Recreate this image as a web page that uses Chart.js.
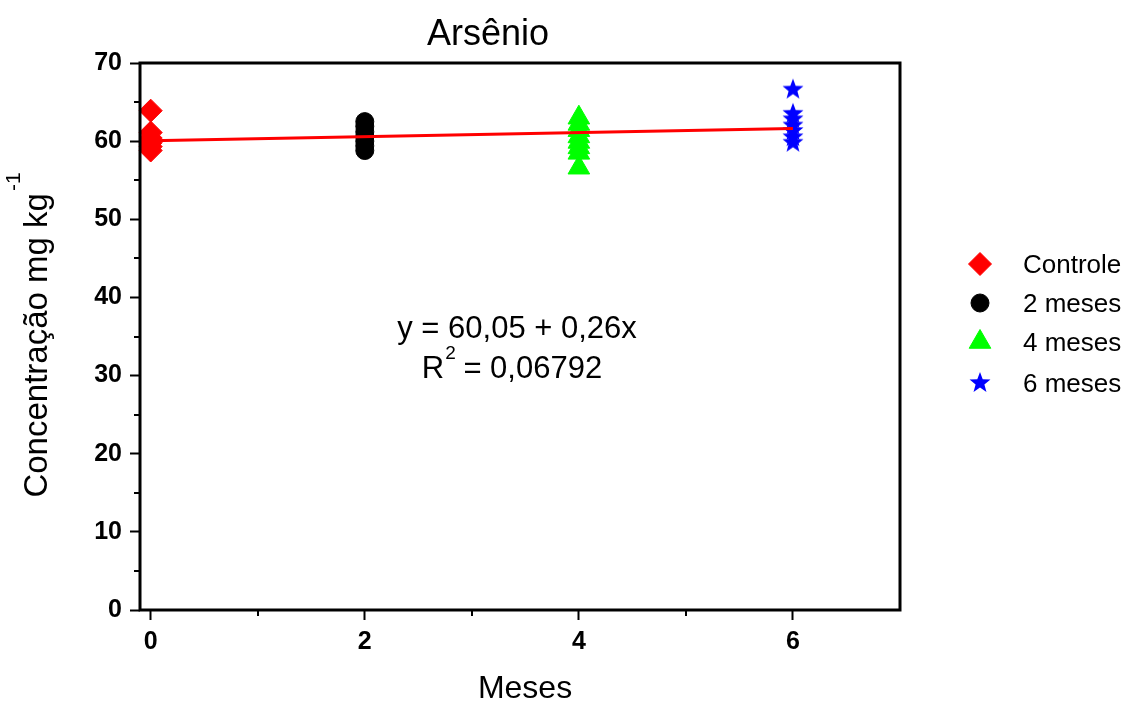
<!DOCTYPE html>
<html>
<head>
<meta charset="utf-8">
<script src="https://cdn.jsdelivr.net/npm/chart.js@4/dist/chart.umd.min.js"></script>
<style>
html, body { margin: 0; padding: 0; background: #fff; }
</style>
</head>
<body>
<canvas id="arsenioChart" width="1126" height="702"></canvas>
<script>
// concentration readings (mg/kg) per sampling month
const months = [0, 2, 4, 6];
const controle = [63.9, 61.1, 60.4, 59.8, 59.3, 58.8];
const meses2 = [62.5, 61.9, 61.2, 60.6, 60.0, 59.4, 58.8];
const meses4 = [63.0, 62.2, 61.4, 60.6, 59.9, 59.2, 58.5, 56.6];
const meses6 = [66.6, 63.5, 62.8, 62.0, 61.3, 60.5, 59.8];
const seriesNames = ['Controle', '2 meses', '4 meses', '6 meses'];

// linear fit
const intercept = 60.05;
const slope = 0.26;
const fitLabel = 'y = 60,05 + 0,26x';
const r2Label = '0,06792';

const xTicks = [0, 2, 4, 6];
const xMinor = [1, 3, 5];
const yTicks = [0, 10, 20, 30, 40, 50, 60, 70];
const yMinor = [5, 15, 25, 35, 45, 55, 65];

const FONT = '"Liberation Sans", Arial, sans-serif';

// filled five point star, used as a point style
const makeStar = (outer, color) => {
    const c = document.createElement('canvas');
    const size = Math.ceil(outer * 2 + 2);
    c.width = size; c.height = size;
    const g = c.getContext('2d');
    const inner = outer * 0.42;
    g.beginPath();
    for (let i = 0; i < 10; i++) {
        const r = i % 2 === 0 ? outer : inner;
        const a = -Math.PI / 2 + i * Math.PI / 5;
        const px = size / 2 + r * Math.cos(a);
        const py = size / 2 + r * Math.sin(a);
        if (i === 0) g.moveTo(px, py); else g.lineTo(px, py);
    }
    g.closePath();
    g.fillStyle = color;
    g.fill();
    return c;
};
const starImg = makeStar(11, '#0000ff');

const toPoints = (x, values) => values.map(v => ({ x: x, y: v }));

const markers = [
    { style: 'rectRot', radius: 11.5, color: '#ff0000' },
    { style: 'circle', radius: 9, color: '#000000' },
    { style: 'triangle', radius: 12.5, color: '#00ff00' },
    { style: starImg, radius: 11, color: '#0000ff' }
];
const seriesValues = [controle, meses2, meses4, meses6];

const scatterSets = seriesValues.map((vals, i) => ({
    label: seriesNames[i],
    data: toPoints(months[i], vals),
    showLine: false,
    pointStyle: markers[i].style,
    pointRadius: markers[i].radius,
    backgroundColor: markers[i].color,
    borderColor: markers[i].color,
    borderWidth: 1,
    order: 1,
    clip: false
}));

const fitSet = {
    label: 'fit',
    data: [
        { x: months[0], y: intercept + slope * months[0] },
        { x: months[3], y: intercept + slope * months[3] }
    ],
    showLine: true,
    borderColor: '#ff0000',
    borderWidth: 3,
    pointRadius: 0,
    order: 0
};

const line = (ctx, x1, y1, x2, y2) => {
    ctx.beginPath(); ctx.moveTo(x1, y1); ctx.lineTo(x2, y2); ctx.stroke();
};

const decor = {
    id: 'decor',
    afterDraw(chart) {
        const ctx = chart.ctx;
        const a = chart.chartArea;
        const xs = chart.scales.x;
        const ys = chart.scales.y;
        ctx.save();
        ctx.strokeStyle = '#000';
        ctx.lineWidth = 3;
        ctx.strokeRect(a.left, a.top, a.right - a.left, a.bottom - a.top);

        // minor ticks
        ctx.lineWidth = 2;
        xMinor.forEach(v => {
            const px = Math.round(xs.getPixelForValue(v));
            line(ctx, px, a.bottom, px, a.bottom + 6);
        });
        yMinor.forEach(v => {
            const py = Math.round(ys.getPixelForValue(v));
            line(ctx, a.left, py, a.left - 6, py);
        });

        ctx.fillStyle = '#000';
        // title
        ctx.font = '36px ' + FONT;
        ctx.textAlign = 'center';
        ctx.textBaseline = 'alphabetic';
        ctx.fillText('Arsênio', 488, 45);

        // x title
        ctx.font = '32px ' + FONT;
        ctx.fillText('Meses', 525, 698);

        // y title with superscript
        ctx.save();
        ctx.translate(47, 335);
        ctx.rotate(-Math.PI / 2);
        ctx.textAlign = 'left';
        ctx.font = '33px ' + FONT;
        const main = 'Concentração mg kg';
        const mw = ctx.measureText(main).width;
        ctx.font = '21px ' + FONT;
        const sw = ctx.measureText('-1').width;
        const start = -(mw + sw + 2) / 2;
        ctx.font = '33px ' + FONT;
        ctx.fillText(main, start, 0);
        ctx.font = '21px ' + FONT;
        ctx.fillText('-1', start + mw + 2, -27);
        ctx.restore();

        // fit equation
        ctx.font = '31px ' + FONT;
        ctx.textAlign = 'center';
        ctx.fillText(fitLabel, 517, 338);
        ctx.textAlign = 'left';
        const rest = ' = ' + r2Label;
        const rW = ctx.measureText('R').width;
        const restW = ctx.measureText(rest).width;
        ctx.font = '19px ' + FONT;
        const supW = ctx.measureText('2').width;
        const rx = 512 - (rW + supW + restW) / 2;
        ctx.font = '31px ' + FONT;
        ctx.fillText('R', rx, 378);
        ctx.font = '19px ' + FONT;
        ctx.fillText('2', rx + rW + 1, 359);
        ctx.font = '31px ' + FONT;
        ctx.fillText(rest, rx + rW + supW, 378);

        // legend
        const rows = [264, 303, 342, 383];
        ctx.font = '26px ' + FONT;
        ctx.textBaseline = 'middle';
        rows.forEach((ry, i) => {
            const m = markers[i];
            ctx.fillStyle = m.color;
            ctx.strokeStyle = m.color;
            ctx.lineWidth = 1;
            Chart.helpers.drawPoint(ctx, { pointStyle: m.style, radius: m.radius, borderWidth: 1 }, 980, ry);
            ctx.fillStyle = '#000';
            ctx.fillText(seriesNames[i], 1023, ry + 2);
        });
        ctx.restore();
    }
};

new Chart(document.getElementById('arsenioChart').getContext('2d'), {
    type: 'scatter',
    data: { datasets: scatterSets.concat([fitSet]) },
    options: {
        responsive: false,
        animation: false,
        layout: { padding: { top: 63, right: 226, left: 0, bottom: 0 } },
        plugins: {
            legend: { display: false },
            tooltip: { enabled: false },
            title: { display: false }
        },
        scales: {
            x: {
                type: 'linear',
                min: -0.1,
                max: 7,
                afterBuildTicks: s => { s.ticks = xTicks.map(v => ({ value: v })); },
                afterFit: s => { s.height = 92; },
                border: { display: false },
                grid: {
                    drawOnChartArea: false,
                    drawTicks: true,
                    tickLength: 10,
                    tickWidth: 2,
                    tickColor: '#000'
                },
                ticks: {
                    color: '#000',
                    padding: 7,
                    maxRotation: 0,
                    font: { family: FONT, size: 25, weight: 'bold' }
                }
            },
            y: {
                min: 0,
                max: 70,
                afterBuildTicks: s => { s.ticks = yTicks.map(v => ({ value: v })); },
                afterFit: s => { s.width = 140; },
                border: { display: false },
                grid: {
                    drawOnChartArea: false,
                    drawTicks: true,
                    tickLength: 10,
                    tickWidth: 2,
                    tickColor: '#000'
                },
                ticks: {
                    color: '#000',
                    padding: 8,
                    font: { family: FONT, size: 25, weight: 'bold' }
                }
            }
        }
    },
    plugins: [decor]
});
</script>
</body>
</html>
